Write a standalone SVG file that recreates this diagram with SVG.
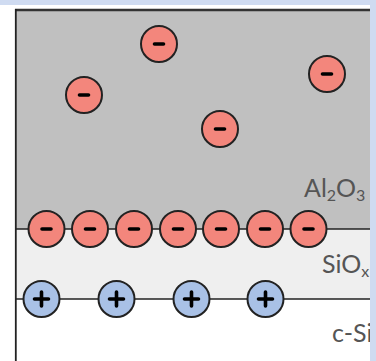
<svg xmlns="http://www.w3.org/2000/svg" width="376" height="361" viewBox="0 0 376 361">
<style>
.neg{fill:#f3867c;stroke:#222;stroke-width:2}
.pos{fill:#a9c1e6;stroke:#222;stroke-width:2}
.sign{stroke:#000;stroke-width:3.6;stroke-linecap:round;fill:none}
.lbl{font-family:Lato,"Open Sans",sans-serif;font-size:25px;fill:#555}
.sub{font-size:16px}
.ln{stroke:#222;stroke-width:1.6;fill:none}
</style>
<defs>
<g id="minus"><circle class="neg" r="18"/><line class="sign" x1="-4.5" y1="0" x2="4.5" y2="0"/></g>
<g id="plus"><circle class="pos" r="18"/><path class="sign" d="M-7 0H7M0 -7V7"/></g>
</defs>
<rect width="376" height="361" fill="#fff"/>
<g id="layers">
<rect id="al2o3" x="15" y="9.5" width="360" height="219.5" fill="#c0c0c0"/>
<rect id="siox" x="15" y="229" width="360" height="70" fill="#efefef"/>
<line class="ln" x1="15" y1="229" x2="376" y2="229"/>
<line class="ln" x1="15" y1="299" x2="376" y2="299"/>
<line x1="15" y1="10" x2="376" y2="10" stroke="#333" stroke-width="2.6"/>
<line x1="15.8" y1="9" x2="15.8" y2="361" stroke="#222" stroke-width="1.8"/>
</g>
<g id="labels">
<text class="lbl" x="304" y="197">Al<tspan class="sub" dy="4">2</tspan><tspan dy="-4">O</tspan><tspan class="sub" dy="4">3</tspan></text>
<text class="lbl" x="322" y="273">SiO<tspan class="sub" dy="4">x</tspan></text>
<text class="lbl" x="332" y="342">c-Si</text>
</g>
<g id="charges">
<use id="n1" href="#minus" x="159" y="44"/>
<use id="n2" href="#minus" x="84" y="95"/>
<use id="n3" href="#minus" x="327" y="74"/>
<use id="n4" href="#minus" x="220" y="129"/>
<use id="i1" href="#minus" x="46.5" y="229"/>
<use id="i2" href="#minus" x="90" y="229"/>
<use id="i3" href="#minus" x="134" y="229"/>
<use id="i4" href="#minus" x="178" y="229"/>
<use id="i5" href="#minus" x="221" y="229"/>
<use id="i6" href="#minus" x="265" y="229"/>
<use id="i7" href="#minus" x="308.5" y="229"/>
<use id="p1" href="#plus" x="41.5" y="299"/>
<use id="p2" href="#plus" x="116.5" y="299"/>
<use id="p3" href="#plus" x="191.5" y="299"/>
<use id="p4" href="#plus" x="265.5" y="299"/>
</g>
<g id="frame">
<rect x="0" y="0" width="376" height="5" fill="#cfdbf1"/>
<rect x="370" y="0" width="6" height="361" fill="#cfdbf1"/>
</g>
</svg>
